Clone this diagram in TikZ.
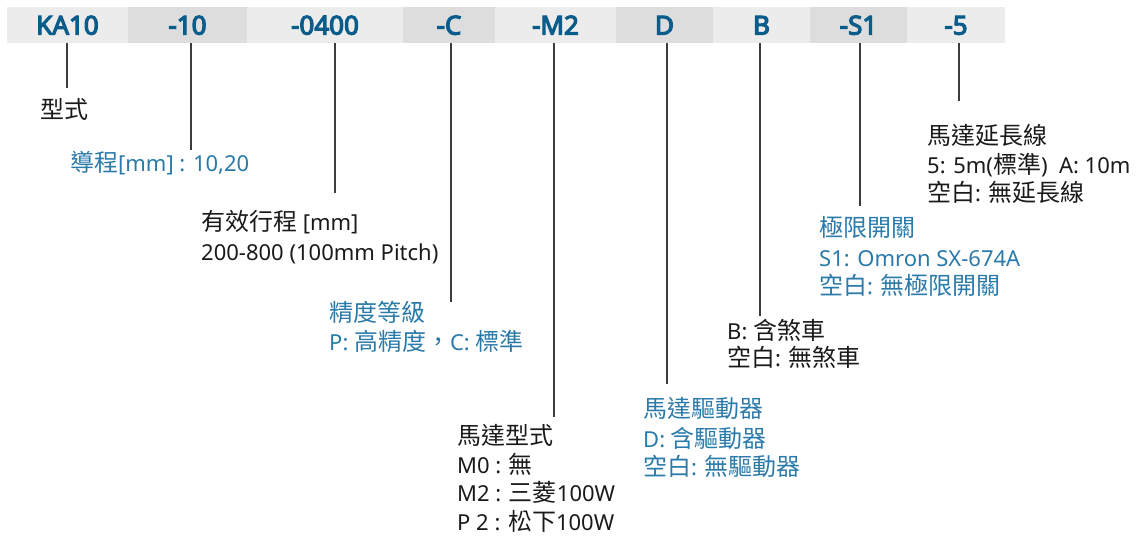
\documentclass[tikz,border=0pt]{standalone}
\usepackage{fontspec}
\setmainfont{Noto Sans}
\newfontfamily\barfont{Noto Sans}[FakeBold=4.5]
\newfontfamily\cjk[Scale=1.09]{Noto Sans CJK TC}
\definecolor{barlight}{HTML}{ECECEC}
\definecolor{bardark}{HTML}{DCDDDC}
\definecolor{bartext}{HTML}{0A5C8A}
\definecolor{lblue}{HTML}{2A7AAA}
\definecolor{lblack}{HTML}{1A1A1A}
\definecolor{conncol}{HTML}{3C3C3C}
\begin{document}
\begin{tikzpicture}[x=1pt,y=-1pt,
  cell/.style={inner sep=0pt, minimum height=36pt, text height=19pt, text depth=0pt,
    font=\barfont\fontsize{26}{26}\selectfont, text=bartext},
  lt/.style={fill=barlight, cell},
  dk/.style={fill=bardark, cell},
  conn/.style={draw=conncol, line width=1.4pt},
  lbl/.style={anchor=base west, inner sep=0pt, font=\fontsize{22}{28}\selectfont, text=lblack},
  blbl/.style={lbl, text=lblue}]
\useasboundingbox (0,0) rectangle (1145,541);
% code bar
\node[lt, minimum width=121pt] (c1) at (67.5,25) {KA10};
\node[dk, minimum width=119pt] (c2) at (187.5,25) {-10};
\node[lt, minimum width=156pt] (c3) at (325,25) {-0400};
\node[dk, minimum width=92pt] (c4) at (449,25) {-C};
\node[lt, minimum width=121pt] (c5) at (555.5,25) {-M2};
\node[dk, minimum width=97pt] (c6) at (664.5,25) {D};
\node[lt, minimum width=97pt] (c7) at (761.5,25) {B};
\node[dk, minimum width=97pt] (c8) at (858.5,25) {-S1};
\node[lt, minimum width=98pt] (c9) at (956,25) {-5};
% connector ends
\coordinate (e1) at (67,88);
\coordinate (e2) at (191,150);
\coordinate (e3) at (335,193);
\coordinate (e4) at (451,302);
\coordinate (e5) at (554,417);
\coordinate (e6) at (667,384);
\coordinate (e7) at (760,316);
\coordinate (e8) at (860,206);
\coordinate (e9) at (959,101);
\draw[conn] (e1 |- c1.south) -- (e1);
\draw[conn] (e2 |- c2.south) -- (e2);
\draw[conn] (e3 |- c3.south) -- (e3);
\draw[conn] (e4 |- c4.south) -- (e4);
\draw[conn] (e5 |- c5.south) -- (e5);
\draw[conn] (e6 |- c6.south) -- (e6);
\draw[conn] (e7 |- c7.south) -- (e7);
\draw[conn] (e8 |- c8.south) -- (e8);
\draw[conn] (e9 |- c9.south) -- (e9);
% labels
\node[lbl] (t1) at (40,118.5) {{\cjk 型式}};
\node[blbl] (t2) at (70,171) {{\cjk 導程}[mm] : 10,20};
\node[lbl] (t3a) at (201,230.5) {{\cjk 有效行程} [mm]};
\node[lbl] (t3b) at (201,260) {200-800 (100mm Pitch)};
\node[blbl] (t4a) at (329,321.5) {{\cjk 精度等級}};
\node[blbl] (t4b) at (329,350) {P: {\cjk 高精度，}C: {\cjk 標準}};
\node[lbl] (t5a) at (457,444.5) {{\cjk 馬達型式}};
\node[lbl] (t5b) at (457,473) {M0 : {\cjk 無}};
\node[lbl] (t5c) at (457,501.5) {M2 : {\cjk 三菱}100W};
\node[lbl] (t5d) at (457,530) {P 2 : {\cjk 松下}100W};
\node[blbl] (t6a) at (643,417.5) {{\cjk 馬達驅動器}};
\node[blbl] (t6b) at (643,447) {D: {\cjk 含驅動器}};
\node[blbl] (t6c) at (643,475.5) {{\cjk 空白}: {\cjk 無驅動器}};
\node[lbl] (t7a) at (727,339) {B: {\cjk 含煞車}};
\node[lbl] (t7b) at (727,366.5) {{\cjk 空白}: {\cjk 無煞車}};
\node[blbl] (t8a) at (819,236.5) {{\cjk 極限開關}};
\node[blbl] (t8b) at (819,266) {S1: Omron SX-674A};
\node[blbl] (t8c) at (819,294) {{\cjk 空白}: {\cjk 無極限開關}};
\node[lbl] (t9a) at (927,144) {{\cjk 馬達延長線}};
\node[lbl] (t9b) at (927,173) {5: 5m({\cjk 標準})\ \ A: 10m};
\node[lbl] (t9c) at (927,201) {{\cjk 空白}: {\cjk 無延長線}};
\end{tikzpicture}
\end{document}
